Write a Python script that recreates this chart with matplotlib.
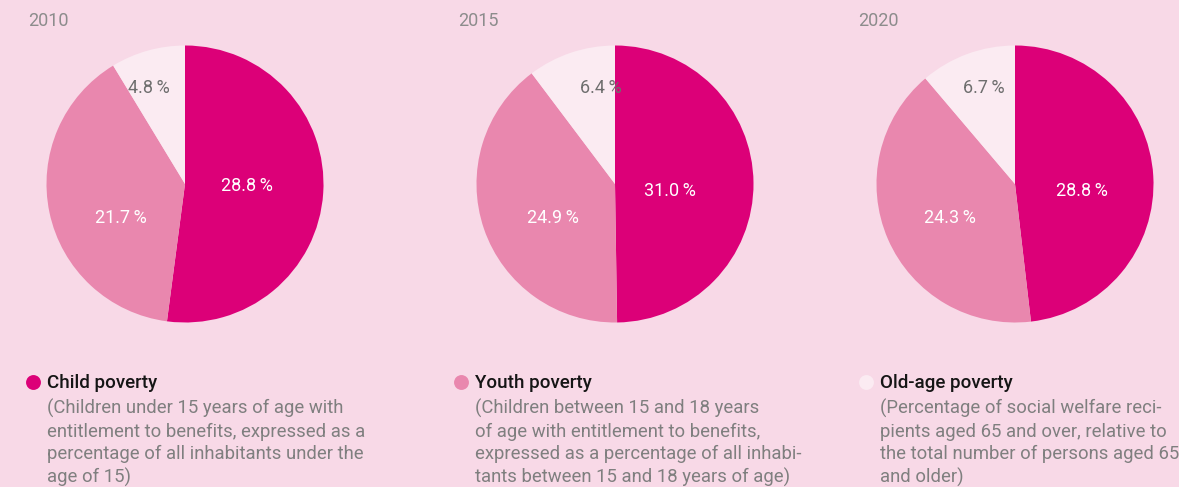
import numpy as np
import matplotlib
matplotlib.use("Agg")
import matplotlib.pyplot as plt

# Datos
years = ["2010", "2015", "2020"]
child = [28.8, 31.0, 28.8]
youth = [21.7, 24.9, 24.3]
old_age = [4.8, 6.4, 6.7]

legend_titles = ["Child poverty", "Youth poverty", "Old-age poverty"]
legend_texts = [
    "(Children under 15 years of age with\nentitlement to benefits, expressed as a\n"
    "percentage of all inhabitants under the\nage of 15)",
    "(Children between 15 and 18 years\nof age with entitlement to benefits,\n"
    "expressed as a percentage of all inhabi-\ntants between 15 and 18 years of age)",
    "(Percentage of social welfare reci-\npients aged 65 and over, relative to\n"
    "the total number of persons aged 65\nand older)",
]

colors = ["#dc0078", "#e987ae", "#fbebf2"]
bg = "#f8d9e7"
font = "Roboto"

W, H = 1179, 487
fig = plt.figure(figsize=(W / 100, H / 100), dpi=100, facecolor=bg)
ax = fig.add_axes([0, 0, 1, 1])

centers_x = [185, 615, 1015]
cy = H - 184
radius = 138.5
# desplazamientos de las etiquetas (px) respecto al centro
offsets = [
    [(62, -2), (-64, -34), (-36, 96)],
    [(55, -7), (-62, -34), (-14, 96)],
    [(67, -7), (-65, -34), (-31, 96)],
]
label_colors = ["white", "white", "#6e6e6e"]

for i, year in enumerate(years):
    vals = [child[i], youth[i], old_age[i]]
    cx = centers_x[i]
    ax.pie(vals, colors=colors, startangle=90, counterclock=False,
           center=(cx, cy), radius=radius, frame=True,
           wedgeprops=dict(linewidth=0))
    for v, (dx, dy), lc in zip(vals, offsets[i], label_colors):
        ax.text(cx + dx, cy + dy, f"{v:.1f}\u2009%", color=lc, fontsize=13,
                family=font, ha="center", va="center")
    ax.text(centers_x[i] - 157, H - 21, year, color="#8c8c8c", fontsize=13,
            family=font, ha="left", va="center")

ax.set_xlim(0, W)
ax.set_ylim(0, H)
ax.set_aspect("equal")
ax.axis("off")

legend_x = [33, 461, 866]
for i in range(3):
    x = legend_x[i]
    ax.scatter([x], [H - 382], s=115, color=colors[i], zorder=5, linewidths=0)
    ax.text(x + 14, H - 383, legend_titles[i], color="#151515", fontsize=13.5,
            family=font, weight="medium", ha="left", va="center")
    ax.text(x + 14, H - 399, legend_texts[i], color="#7f7f7f", fontsize=13.3,
            family=font, ha="left", va="top", linespacing=1.32)

fig.savefig("out.png", dpi=100, facecolor=bg)
